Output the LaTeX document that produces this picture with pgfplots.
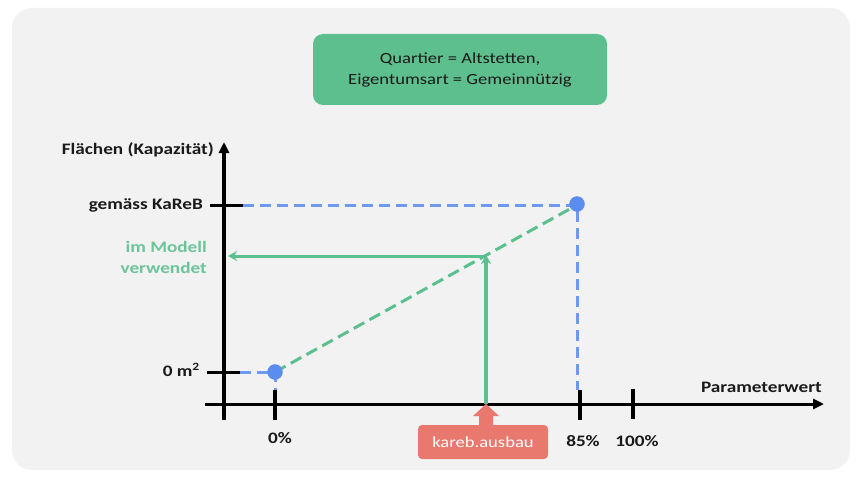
\documentclass[border=0pt]{standalone}
\usepackage{fontspec}
\setmainfont{Carlito}[FakeStretch=1.2]
\usepackage{pgfplots}
\pgfplotsset{compat=1.18}
\usetikzlibrary{arrows.meta}
\definecolor{bg}{HTML}{F2F2F2}
\definecolor{bluept}{HTML}{5B8DEF}
\definecolor{blueln}{HTML}{6B9AF0}
\definecolor{grn}{HTML}{5CBF8F}
\definecolor{grntxt}{HTML}{6CC49A}
\definecolor{boxgrn}{HTML}{5DBF8E}
\definecolor{redbox}{HTML}{E9786F}
\definecolor{txt}{HTML}{1A1A1A}
\begin{document}
\begin{tikzpicture}
\begin{axis}[width=859bp,height=477bp,scale only axis,
  xmin=0,xmax=859,ymin=0,ymax=477,y dir=reverse,hide axis,clip=false]
% background
\addplot[draw=none,fill=white] coordinates {(0,0)(859,0)(859,477)(0,477)} --cycle;
\addplot[draw=none,fill=bg,rounded corners=20bp] coordinates {(431,8)(850,8)(850,470)(12,470)(12,8)} --cycle;
% axes
\addplot[black,line width=3.2bp,-{Triangle[length=11bp,width=10bp]}] coordinates {(224,420)(224,142)};
\addplot[black,line width=3bp,-{Triangle[length=11bp,width=10bp]}] coordinates {(205,404)(824,404)};
% ticks
\addplot[black,line width=3bp] coordinates {(210,205)(243,205)};
\addplot[black,line width=3bp] coordinates {(207,372)(240,372)};
\addplot[black,line width=3.2bp] coordinates {(275,390)(275,420)};
\addplot[black,line width=3.2bp] coordinates {(580,390)(580,420)};
\addplot[black,line width=3.2bp] coordinates {(633,389)(633,419)};
% blue dashed guides
\addplot[blueln,line width=3bp,dash pattern=on 11bp off 6bp] coordinates {(243,205)(577,205)(577,390)};
\addplot[blueln,line width=3bp,dash pattern=on 11bp off 6bp] coordinates {(240,372)(275,372)(275,390)};
% green dashed line
\addplot[grn,line width=3bp,dash pattern=on 12bp off 6bp] coordinates {(275,372)(577,205)};
% green solid arrows
\addplot[grn,line width=3.2bp,-{Stealth[length=9bp,width=10bp]}] coordinates {(486,404)(486,255)};
\addplot[grn,line width=3bp,-{Stealth[length=9bp,width=10bp]}] coordinates {(486,256)(228,256)};
% points
\addplot[only marks,mark=*,mark size=7.5bp,bluept,mark options={draw=bluept,fill=bluept}] coordinates {(275,372)(577,204)};
% red block arrow
\addplot[draw=none,fill=redbox] coordinates {(486,404)(499,416)(493,416)(493,427)(479,427)(479,416)(473,416)} --cycle;
% boxes
\node[fill=boxgrn,rounded corners=10bp,minimum width=294bp,minimum height=71bp,inner sep=0pt,align=center,text=txt,font=\fontsize{15.5bp}{21bp}\selectfont] at (axis cs:460,69.5) {Quartier = Altstetten,\\Eigentumsart = Gemeinnützig};
\node[fill=redbox,rounded corners=4bp,minimum width=130bp,minimum height=34bp,inner sep=0pt,text=white,font=\fontsize{15.5bp}{18bp}\selectfont] at (axis cs:483,442) {kareb.ausbau};
% labels
\begin{scope}[every node/.style={font=\bfseries\fontsize{16bp}{21bp}\selectfont,text=txt,inner sep=0pt}]
\node[anchor=east] at (axis cs:214,150) {Flächen (Kapazität)};
\node[anchor=east] at (axis cs:203,205) {gemäss KaReB};
\node[anchor=east] at (axis cs:200,370) {0 m\textsuperscript{2}};
\node at (axis cs:280,438) {0\%};
\node at (axis cs:583,441) {85\%};
\node at (axis cs:637,441) {100\%};
\node[anchor=east] at (axis cs:822,387) {Parameterwert};
\node[anchor=east,text=grntxt,align=right] at (axis cs:207,257) {im Modell\\verwendet};
\end{scope}
\end{axis}
\end{tikzpicture}
\end{document}
